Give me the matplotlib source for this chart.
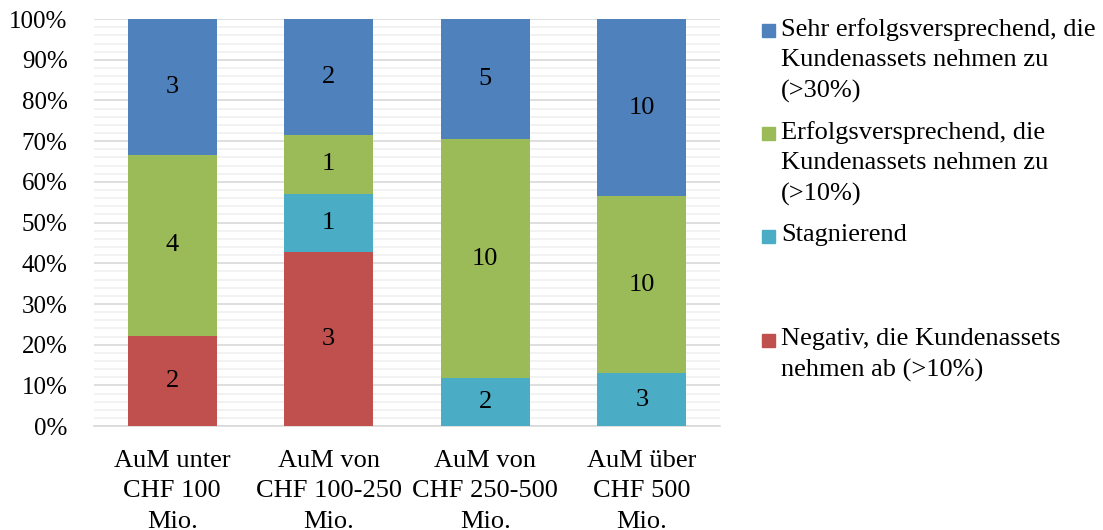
import numpy as np
import matplotlib.pyplot as plt
from matplotlib.patches import Rectangle
from matplotlib.ticker import MultipleLocator, PercentFormatter

plt.rcParams['font.family'] = ['Liberation Serif', 'DejaVu Serif']

# Antworten je AuM-Klasse (Anzahl Nennungen)
kategorien = ["AuM unter\nCHF 100\nMio.", "AuM von\nCHF 100-250\nMio.",
              "AuM von\nCHF 250-500\nMio.", "AuM über\nCHF 500\nMio."]
negativ = [2, 3, 0, 0]
stagnierend = [0, 1, 2, 3]
erfolg = [4, 1, 10, 10]
sehr_erfolg = [3, 2, 5, 10]

serien = [
    ("Negativ, die Kundenassets\nnehmen ab (>10%)", negativ, "#C0504D"),
    ("Stagnierend", stagnierend, "#4BACC6"),
    ("Erfolgsversprechend, die\nKundenassets nehmen zu\n(>10%)", erfolg, "#9BBB59"),
    ("Sehr erfolgsversprechend, die\nKundenassets nehmen zu\n(>30%)", sehr_erfolg, "#4F81BD"),
]

werte = np.array([s[1] for s in serien], dtype=float)
anteile = werte / werte.sum(axis=0) * 100

fig = plt.figure(figsize=(11.03, 5.30), dpi=100)
ax = fig.add_axes([0.0852, 0.196, 0.5676, 0.768])

x = np.arange(len(kategorien))
unten = np.zeros(len(kategorien))
for (name, vals, farbe), pct in zip(serien, anteile):
    ax.bar(x, pct, bottom=unten, width=0.57, color=farbe, zorder=3)
    for xi, b, h, v in zip(x, unten, pct, vals):
        if v > 0:
            ax.text(xi, b + h / 2, str(v), ha='center', va='center',
                    fontsize=19, color='black', zorder=4)
    unten += pct

ax.set_xlim(-0.5, len(kategorien) - 0.5)
ax.set_ylim(0, 100)
ax.yaxis.set_major_locator(MultipleLocator(10))
ax.yaxis.set_minor_locator(MultipleLocator(2))
ax.yaxis.set_major_formatter(PercentFormatter(decimals=0))
ax.grid(axis='y', which='major', color='#D9D9D9', linewidth=1.2, zorder=0)
ax.grid(axis='y', which='minor', color='#F0F0F0', linewidth=1.2, zorder=0)
ax.set_axisbelow(True)

for s in ['left', 'right', 'top']:
    ax.spines[s].set_visible(False)
ax.spines['bottom'].set_color('#D9D9D9')
ax.spines['bottom'].set_linewidth(1.2)

ax.set_xticks(x)
ax.set_xticklabels(kategorien, fontsize=19, linespacing=1.5)
ax.tick_params(axis='x', length=0, pad=17)
ax.tick_params(axis='y', which='both', length=0, labelsize=18, pad=19)

# Legende rechts, von oben nach unten
eintraege = list(reversed(serien))
ypos = [30, 133, 236, 340]
for (name, vals, farbe), y in zip(eintraege, ypos):
    fig.patches.append(Rectangle((762 / 1103, 1 - (y + 7) / 530), 13 / 1103, 13 / 530,
                                 transform=fig.transFigure, color=farbe))
    fig.text(781 / 1103, 1 - (y - 12) / 530, name, fontsize=19, va='top', ha='left',
             linespacing=1.5)

fig.savefig("out.png", dpi=100)
